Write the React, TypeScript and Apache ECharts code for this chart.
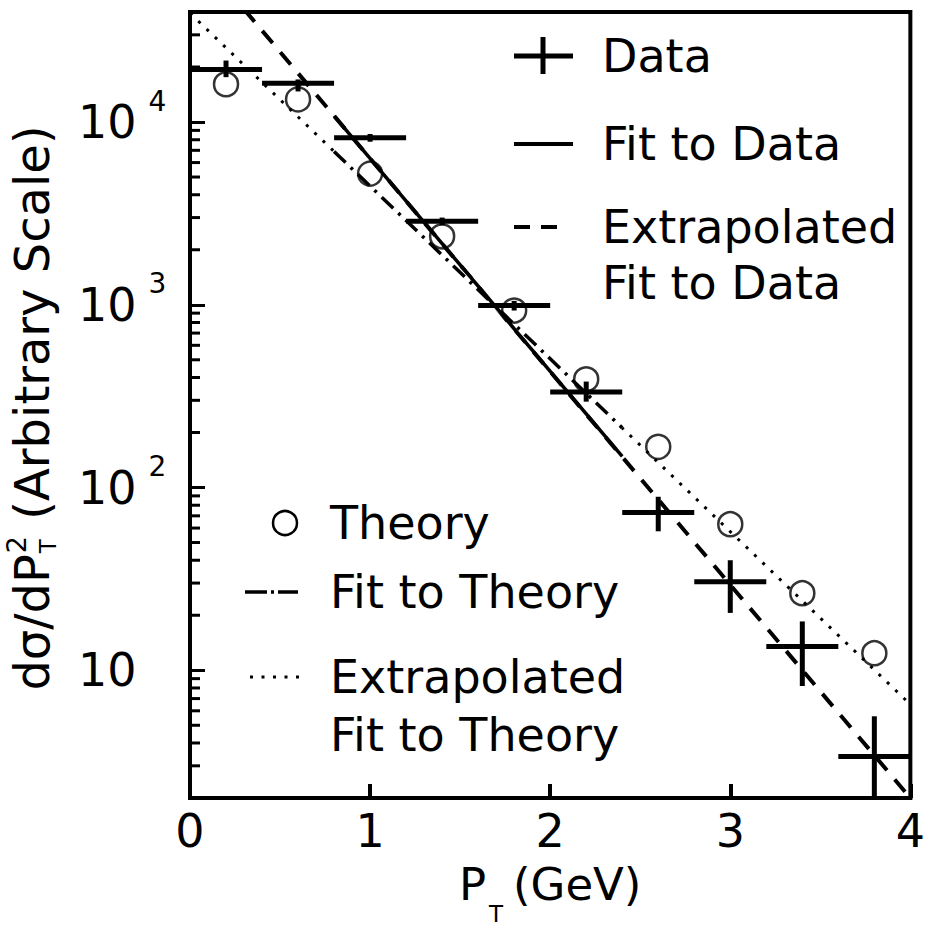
import React, { useEffect, useRef } from 'react';
import * as echarts from 'echarts';

// ---- data ----
const binCenters = [0.2, 0.6, 1.0, 1.4, 1.8, 2.2, 2.6, 3.0, 3.4, 3.8];
const binHalfWidth = 0.2;
const dataValues = [19400, 16300, 8200, 2860, 990, 333, 73, 30.5, 13.5, 3.37];
const dataErrLow = [17600, 14700, 7800, 2720, 930, 295, 57.6, 20.6, 8.2, 2.0];
const dataErrHigh = [21700, 17100, 8600, 3000, 1050, 380, 89, 40, 18.5, 5.6];
const theoryValues = [16100, 13300, 5220, 2370, 930, 391, 167, 63, 26.4, 12.4];

const fitDataX = [0.8, 2.4];
const fitDataY = [10800, 148];
const extrapDataX = [0, 4];
const extrapDataY = [92700, 2.0];
const fitTheoryX = [0.8, 2.4];
const fitTheoryY = [6900, 212];
const extrapTheoryX = [0, 4];
const extrapTheoryY = [39400, 6.5];

const xMin = 0;
const xMax = 4;
const yMin = 2;
const yMax = 40000;
const yMinorTicks = [3, 4, 5, 6, 7, 8, 9, 20, 30, 40, 50, 60, 70, 80, 90, 200, 300, 400, 500, 600, 700, 800, 900,
  2000, 3000, 4000, 5000, 6000, 7000, 8000, 9000, 20000, 30000];

const FONT = '"DejaVu Sans", sans-serif';

function measure(text: string, size: number): number {
  const c = document.createElement('canvas');
  const ctx = c.getContext('2d');
  if (!ctx) return text.length * size * 0.6;
  ctx.font = `${size}px "DejaVu Sans"`;
  return ctx.measureText(text).width;
}

const pairs = (xs: number[], ys: number[]) => xs.map((x, i) => [x, ys[i]]);

export default function App() {
  const ref = useRef<HTMLDivElement>(null);
  useEffect(() => {
    if (!ref.current) return;
    const chart = echarts.init(ref.current, null, { renderer: 'svg' });

    // y-axis title built from pieces (stacked super/subscript)
    const tSize = 48;
    const w1 = measure('dσ/dP', tSize);
    const wSup = measure('2', 27);
    const wSub = measure('T', 23);
    const w2 = measure(' (Arbitrary Scale)', tSize);
    const wMid = Math.max(wSup, wSub) + 2;
    const W = w1 + wMid + w2;
    const x0 = -W / 2;

    const txt = (x: number, y: number, text: string, size = 46) => ({
      type: 'text', x, y,
      style: { text, fontSize: size, fontFamily: FONT, fill: '#000', textAlign: 'left', textVerticalAlign: 'middle' },
    });
    const ln = (x1: number, y1: number, x2: number, y2: number, w: number, dash?: number[]) => ({
      type: 'line',
      shape: { x1, y1, x2, y2 },
      style: { stroke: '#000', lineWidth: w, lineDash: dash },
    });

    const option: any = {
      animation: false,
      backgroundColor: '#fff',
      grid: { left: 190, right: 16, top: 12, bottom: 124, show: true, borderColor: '#000', borderWidth: 4 },
      xAxis: {
        type: 'value', min: xMin, max: xMax, interval: 1,
        axisLine: { show: true, lineStyle: { color: '#000', width: 4 } },
        axisTick: { show: true, inside: true, length: 14, lineStyle: { color: '#000', width: 4 } },
        splitLine: { show: false },
        axisLabel: { color: '#000', fontSize: 46, fontFamily: FONT, margin: 10 },
        name: '{p|P}{sub|T} {p|(GeV)}',
        nameLocation: 'middle',
        nameGap: 64,
        nameTextStyle: {
          color: '#000', fontFamily: FONT,
          rich: {
            p: { fontSize: 45, lineHeight: 45, fontFamily: FONT, color: '#000' },
            sub: { fontSize: 23, lineHeight: 23, fontFamily: FONT, color: '#000', verticalAlign: 'top', padding: [40, 6, 0, 3] },
          },
        },
      },
      yAxis: {
        type: 'log', logBase: 10, min: yMin, max: yMax,
        axisLine: { show: true, lineStyle: { color: '#000', width: 4 } },
        axisTick: { show: true, inside: true, length: 15, lineStyle: { color: '#000', width: 3 } },
        splitLine: { show: false },
        axisLabel: {
          margin: 112, align: 'left', color: '#000', fontFamily: FONT,
          showMinLabel: false, showMaxLabel: false,
          formatter: (v: number) => {
            const e = Math.round(Math.log10(v));
            if (Math.abs(v - Math.pow(10, e)) > 1e-6 * v) return '';
            if (e === 1) return '{m|10}';
            return `{m|10}{sup|${e}}`;
          },
          rich: {
            m: { fontSize: 46, lineHeight: 70, fontFamily: FONT, color: '#000' },
            sup: { fontSize: 28, lineHeight: 28, fontFamily: FONT, color: '#000', verticalAlign: 'top', padding: [0, 0, 0, 12] },
          },
        },
      },
      series: [
        {
          type: 'line', data: pairs(extrapDataX, extrapDataY), symbol: 'none',
          lineStyle: { color: '#000', width: 4, type: [16, 12] }, clip: true, z: 2,
        },
        {
          type: 'line', data: pairs(fitDataX, fitDataY), symbol: 'none',
          lineStyle: { color: '#000', width: 3.5, type: 'solid' }, clip: true, z: 3,
        },
        {
          type: 'line', data: pairs(extrapTheoryX, extrapTheoryY), symbol: 'none',
          lineStyle: { color: '#000', width: 3, type: [3, 8.5] }, clip: true, z: 2,
        },
        {
          type: 'line', data: pairs(fitTheoryX, fitTheoryY), symbol: 'none',
          lineStyle: { color: '#fff', width: 6, type: 'solid' }, clip: true, z: 2,
        },
        {
          type: 'line', data: pairs(fitTheoryX, fitTheoryY), symbol: 'none',
          lineStyle: { color: '#000', width: 3.5, type: [16, 7, 3, 7] }, clip: true, z: 3,
        },
        {
          type: 'scatter', data: pairs(binCenters, theoryValues), symbol: 'circle', symbolSize: 24,
          itemStyle: { color: 'rgba(0,0,0,0)', borderColor: '#000', borderWidth: 2.5 }, z: 4,
        },
        {
          type: 'custom', clip: true, z: 5,
          data: binCenters.map((x, i) => [x, dataValues[i], dataErrLow[i], dataErrHigh[i]]),
          encode: { x: 0, y: 1 },
          renderItem: (params: any, api: any) => {
            const x = api.value(0);
            const y = api.value(1);
            const lo = api.value(2);
            const hi = api.value(3);
            const pL = api.coord([x - binHalfWidth, y]);
            const pR = api.coord([x + binHalfWidth, y]);
            const pLo = api.coord([x, lo]);
            const pHi = api.coord([x, hi]);
            return {
              type: 'group',
              children: [
                { type: 'line', shape: { x1: pL[0], y1: pL[1], x2: pR[0], y2: pR[1] }, style: { stroke: '#000', lineWidth: 5 } },
                { type: 'line', shape: { x1: pLo[0], y1: pLo[1], x2: pHi[0], y2: pHi[1] }, style: { stroke: '#000', lineWidth: 5 } },
              ],
            };
          },
        },
        {
          type: 'custom', clip: false, z: 6,
          data: yMinorTicks.map((v) => [xMin, v]),
          encode: { x: 0, y: 1 },
          renderItem: (params: any, api: any) => {
            const p = api.coord([api.value(0), api.value(1)]);
            return { type: 'line', shape: { x1: p[0], y1: p[1], x2: p[0] + 10, y2: p[1] }, style: { stroke: '#000', lineWidth: 3 } };
          },
        },
      ],
      graphic: [
        // y-axis title
        {
          type: 'group', x: 32, y: 408, rotation: Math.PI / 2,
          children: [
            txt(x0, 0, 'dσ/dP', tSize),
            txt(x0 + w1 + 1, -16, '2', 27),
            txt(x0 + w1 + 1, 16, 'T', 23),
            txt(x0 + w1 + wMid, 0, ' (Arbitrary Scale)', tSize),
          ],
        },
        // top-right legend
        ln(514, 56, 573, 56, 5),
        ln(543, 37, 543, 74, 5),
        txt(602, 56, 'Data'),
        ln(514, 144, 573, 144, 4),
        txt(602, 144, 'Fit to Data'),
        ln(514, 227, 558, 227, 4, [16, 11]),
        txt(602, 227, 'Extrapolated'),
        txt(602, 283, 'Fit to Data'),
        // bottom-left legend
        { type: 'circle', shape: { cx: 285, cy: 523, r: 12 }, style: { fill: 'none', stroke: '#000', lineWidth: 2.5 } },
        txt(330, 523, 'Theory'),
        ln(245, 592, 298, 592, 3.5, [22, 4, 3, 4]),
        txt(330, 592, 'Fit to Theory'),
        ln(250, 677, 300, 677, 3, [3, 8.5]),
        txt(330, 677, 'Extrapolated'),
        txt(330, 735, 'Fit to Theory'),
      ],
    };
    chart.setOption(option);
    return () => chart.dispose();
  }, []);
  return (
    <div
      ref={ref}
      style={{ position: 'fixed', left: 0, top: 0, width: 928, height: 930, background: '#fff' }}
    />
  );
}
